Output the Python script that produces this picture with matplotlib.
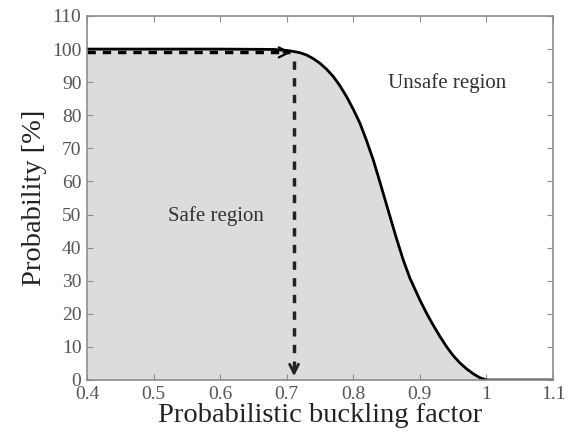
import numpy as np
import matplotlib.pyplot as plt

plt.rcParams['font.family'] = ['Liberation Serif', 'DejaVu Serif']

# probability curve
bf = [0.4, 0.6, 0.68, 0.70, 0.71, 0.72, 0.73, 0.74, 0.75, 0.76, 0.77, 0.78,
      0.79, 0.80, 0.81, 0.82, 0.83, 0.84, 0.855, 0.865, 0.875, 0.885, 0.90,
      0.91, 0.92, 0.93, 0.94, 0.95, 0.96, 0.97, 0.98, 0.99, 1.0, 1.1]
prob = [100, 100, 99.9, 99.6, 99.3, 98.9, 98.2, 97.1, 95.7, 93.9, 91.7, 88.9,
        85.6, 81.8, 77.6, 72.3, 66.5, 59.8, 49.5, 42.7, 36.3, 30.8, 24.2,
        20.2, 16.6, 13.2, 10.1, 7.4, 5.2, 3.4, 1.9, 0.7, 0, 0]

x_arrow = 0.711
y_arrow = 99

fig = plt.figure(figsize=(5.69, 4.43), dpi=100)
ax = fig.add_axes([87/569, 1 - 380/443, (553-87)/569, (380-16)/443])

ax.fill_between(bf, prob, 0, color='#dcdcde', lw=0)

# dashed arrows
ax.plot([0.4, x_arrow - 0.006], [y_arrow, y_arrow], color='black', lw=2.5,
        ls=(0, (2.4, 2.0)))
ax.annotate('', xy=(x_arrow, y_arrow), xytext=(x_arrow - 0.02, y_arrow),
            arrowprops=dict(arrowstyle='->', color='black', lw=1.6,
                            mutation_scale=18))
ax.plot([x_arrow, x_arrow], [y_arrow - 2.5, 1.5], color='#222222', lw=2.5,
        ls=(0, (2.4, 2.4)))
ax.annotate('', xy=(x_arrow, 0.3), xytext=(x_arrow, 5),
            arrowprops=dict(arrowstyle='->', color='#222222', lw=2.0,
                            mutation_scale=16))

ax.plot(bf, prob, color='black', lw=2.0)

ax.text(0.593, 49.4, 'Safe region', fontsize=15, color='#333333',
        ha='center', va='center')
ax.text(0.9415, 89.7, 'Unsafe region', fontsize=15, color='#333333',
        ha='center', va='center')

ax.set_xlim(0.4, 1.1)
ax.set_ylim(0, 110)
ax.set_xticks([0.4, 0.5, 0.6, 0.7, 0.8, 0.9, 1.0, 1.1])
ax.set_xticklabels(['0.4', '0.5', '0.6', '0.7', '0.8', '0.9', '1', '1.1'])
ax.set_yticks(range(0, 111, 10))
ax.tick_params(direction='in', top=True, right=True, length=4,
               color='#8c8c8c', labelcolor='#555555', labelsize=14, pad=4)
for s in ax.spines.values():
    s.set_color('#8c8c8c')
    s.set_linewidth(1.2)

ax.set_xlabel('Probabilistic buckling factor', fontsize=20.5, color='#222222',
              labelpad=0)
ax.set_ylabel('Probability [%]', fontsize=20.5, color='#222222', labelpad=4)

fig.savefig('out.png')
